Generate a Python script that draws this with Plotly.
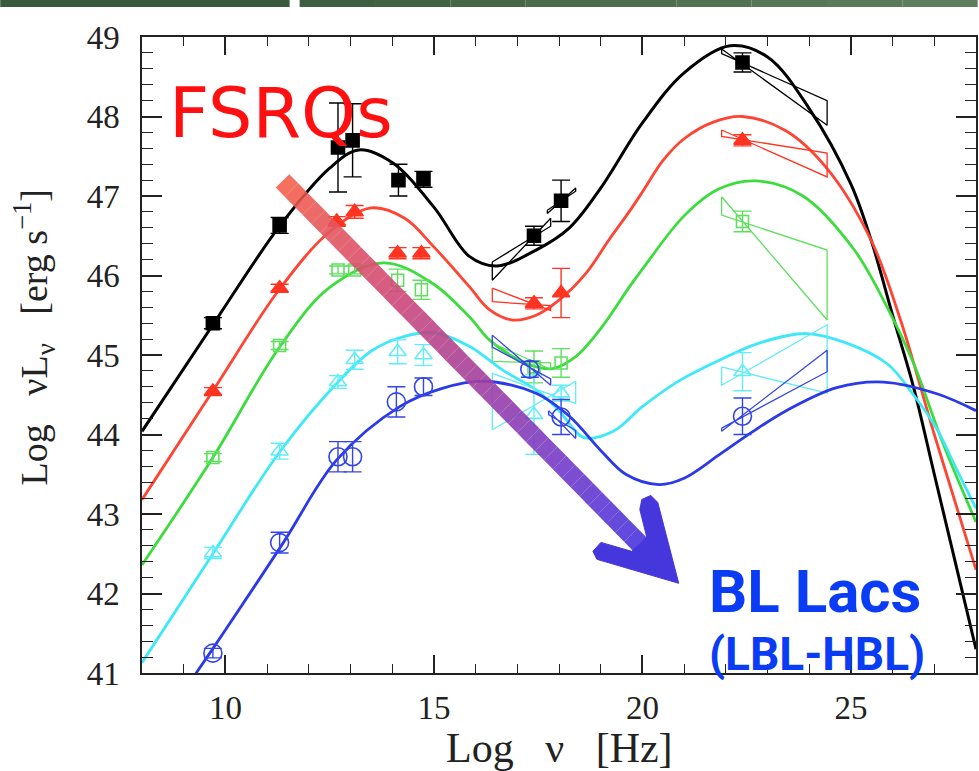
import plotly.graph_objects as go

# ---------------- data ----------------
# model curves (log nu, log nuL_nu)
black_cx = [8.0, 9.7, 11.3, 12.5, 13.2, 14.0, 15.0, 15.85, 16.5, 17.45, 18.25, 19.0, 20.0, 21.0, 22.1, 23.0, 24.0, 25.0, 25.5, 26.0, 26.5, 27.0, 27.5, 28.0]
black_cy = [44.04, 45.38, 46.62, 47.35, 47.58, 47.42, 46.86, 46.24, 46.12, 46.32, 46.6, 47.1, 47.92, 48.55, 48.89, 48.75, 48.1, 47.15, 46.42, 45.5, 44.6, 43.5, 42.4, 41.3]

red_cx = [8.0, 9.7, 11.3, 12.5, 13.5, 14.3, 15.0, 15.85, 16.33, 16.89, 17.45, 18.0, 18.65, 19.2, 19.68, 20.0, 20.5, 21.0, 21.7, 22.4, 23.44, 24.42, 25.47, 26.19, 27.0, 28.0]
red_cy = [43.18, 44.55, 45.83, 46.55, 46.85, 46.72, 46.36, 45.86, 45.57, 45.44, 45.5, 45.69, 46.03, 46.45, 46.8, 47.05, 47.45, 47.72, 47.93, 48.0, 47.82, 47.35, 46.46, 45.44, 44.0, 42.3]

green_cx = [8.0, 9.7, 11.3, 12.5, 13.8, 14.97, 15.85, 16.33, 16.89, 17.45, 17.85, 18.4, 19.04, 19.68, 20.0, 21.0, 21.84, 22.72, 23.85, 25.07, 25.87, 26.5, 27.2, 28.0]
green_cy = [42.36, 43.71, 45.1, 45.85, 46.16, 45.9, 45.48, 45.19, 44.98, 44.85, 44.83, 44.98, 45.36, 45.85, 46.08, 46.75, 47.09, 47.19, 47.0, 46.33, 45.6, 44.9, 43.9, 42.9]

cyan_cx = [8.0, 9.7, 11.3, 12.7, 13.5, 14.2, 15.0, 15.85, 16.65, 17.45, 18.0, 18.6, 19.3, 20.0, 20.8, 21.83, 22.8, 23.93, 24.9, 25.87, 26.5, 27.08, 27.5, 28.0]
cyan_cy = [41.13, 42.5, 43.78, 44.66, 45.05, 45.22, 45.28, 45.11, 44.81, 44.56, 44.3, 43.96, 44.04, 44.35, 44.65, 44.93, 45.15, 45.27, 45.15, 44.89, 44.5, 44.05, 43.6, 43.07]

blue_cx = [8.0, 9.3, 10.0, 11.39, 12.67, 14.18, 15.2, 16.2, 17.45, 18.25, 19.0, 19.6, 20.4, 21.0, 21.83, 22.6, 23.45, 24.66, 25.78, 27.08, 28.0]
blue_cy = [40.0, 41.0, 41.54, 42.64, 43.68, 44.35, 44.58, 44.67, 44.52, 44.23, 43.8, 43.5, 43.37, 43.45, 43.74, 44.02, 44.3, 44.59, 44.66, 44.51, 44.3]

# data points with error bars
black_x = [9.7, 11.3, 12.7, 13.05, 14.15, 14.75, 17.4, 18.05, 22.4]
black_y = [45.4, 46.63, 47.61, 47.7, 47.2, 47.21, 46.5, 46.94, 48.68]
black_e = [0.07, 0.1, 0.56, 0.46, 0.2, 0.1, 0.12, 0.26, 0.12]

red_x = [9.7, 11.3, 12.67, 13.1, 14.13, 14.7, 17.4, 18.05, 22.4]
red_y = [44.54, 45.84, 46.68, 46.8, 46.28, 46.28, 45.65, 45.78, 47.7]
red_e = [0.05, 0.05, 0.06, 0.08, 0.07, 0.07, 0.07, 0.31, 0.07]

green_x = [9.7, 11.3, 12.7, 13.1, 14.13, 14.7, 17.4, 18.05, 22.4]
green_y = [43.71, 45.12, 46.07, 46.07, 45.94, 45.82, 44.85, 44.9, 46.68]
green_e = [0.05, 0.05, 0.05, 0.05, 0.14, 0.12, 0.2, 0.18, 0.13]

cyan_x = [9.7, 11.3, 12.7, 13.1, 14.13, 14.75, 17.4, 18.05, 22.4]
cyan_y = [42.51, 43.79, 44.66, 44.94, 45.04, 45.0, 44.25, 44.52, 44.79]
cyan_e = [0.07, 0.1, 0.08, 0.12, 0.15, 0.13, 0.5, 0.1, 0.24]

blue_x = [9.7, 11.3, 12.7, 13.05, 14.1, 14.75, 17.3, 18.05, 22.4]
blue_y = [41.25, 42.64, 43.72, 43.72, 44.41, 44.6, 44.82, 44.22, 44.23]
blue_e = [0.06, 0.13, 0.19, 0.19, 0.19, 0.11, 0.1, 0.22, 0.23]

# spectral "bow-ties": (x_left, x_right, left_top, left_bottom, right_top, right_bottom)
black_bows = [(16.4, 17.8, 46.17, 45.94, 46.72, 46.62),
              (17.72, 18.4, 46.82, 46.78, 47.1, 47.06),
              (21.9, 24.43, 48.85, 48.79, 48.2, 47.89)]
red_bows = [(16.4, 17.8, 45.84, 45.67, 45.62, 45.56),
            (21.9, 24.43, 47.83, 47.75, 47.54, 47.24)]
green_bows = [(16.4, 17.8, 45.15, 44.92, 44.9, 44.82),
              (21.9, 24.43, 46.99, 46.76, 46.32, 45.44)]
cyan_bows = [(16.4, 18.4, 44.77, 44.06, 44.67, 44.39),
             (21.9, 24.43, 44.85, 44.62, 45.38, 44.52)]
blue_bows = [(16.4, 17.8, 45.25, 45.1, 44.7, 44.62),
             (17.75, 18.4, 44.3, 44.25, 44.05, 43.95),
             (21.9, 24.43, 44.08, 44.04, 45.06, 44.79)]

x_ticks = [10, 15, 20, 25]
y_ticks = [41, 42, 43, 44, 45, 46, 47, 48, 49]

# decorative arrow (data units)
arrow_start = (11.37, 47.19)
arrow_end = (19.94, 42.62)
arrow_head_x = [19.005, 18.813, 18.909, 20.871, 20.368, 20.201, 19.986, 19.938, 20.105, 19.746]
arrow_head_y = [42.643, 42.530, 42.430, 42.128, 43.146, 43.234, 43.183, 43.058, 42.706, 42.530]
arrow_stops = [(0.0, (244, 98, 76)), (0.3, (210, 74, 118)), (0.5, (172, 66, 150)),
               (0.75, (122, 60, 198)), (1.0, (74, 54, 222))]

# ---------------- figure ----------------
fig = go.Figure()

series = [
    ("black", "#000000", "#000000", black_cx, black_cy, black_x, black_y, black_e, "square", 13, black_bows, 3.0),
    ("red", "#ff4433", "#ff3322", red_cx, red_cy, red_x, red_y, red_e, "triangle-up", 15, red_bows, 2.8),
    ("green", "#3ddc3d", "#5ee05e", green_cx, green_cy, green_x, green_y, green_e, "square-open", 12, green_bows, 2.8),
    ("cyan", "#3ee8f8", "#62ecfa", cyan_cx, cyan_cy, cyan_x, cyan_y, cyan_e, "triangle-up-open", 15, cyan_bows, 2.8),
    ("blue", "#2a3ae8", "#3344e8", blue_cx, blue_cy, blue_x, blue_y, blue_e, "circle-open", 18, blue_bows, 2.8),
]

for name, lc, pc, cx, cy, px, py, pe, sym, msize, bows, lw in series:
    fig.add_trace(go.Scatter(x=cx, y=cy, mode="lines", line=dict(color=lc, width=lw, shape="spline", smoothing=1.0),
                             hoverinfo="skip", showlegend=False))
    for (xl, xr, lt, lb, rt, rb) in bows:
        fig.add_trace(go.Scatter(x=[xl, xr, xr, xl, xl], y=[lt, rb, rt, lb, lt], mode="lines",
                                 line=dict(color=pc, width=1.3), hoverinfo="skip", showlegend=False))
    fig.add_trace(go.Scatter(x=px, y=py, mode="markers",
                             marker=dict(symbol=sym, size=msize, color=pc, line=dict(color=pc, width=1.6)),
                             error_y=dict(type="data", array=pe, color=pc, thickness=1.4, width=9),
                             showlegend=False))

# gradient arrow shaft
def interp_color(t):
    for (t0, c0), (t1, c1) in zip(arrow_stops[:-1], arrow_stops[1:]):
        if t0 <= t <= t1:
            f = (t - t0) / (t1 - t0)
            return "rgb(%d,%d,%d)" % tuple(round(a + (b - a) * f) for a, b in zip(c0, c1))
    return "rgb(%d,%d,%d)" % arrow_stops[-1][1]

nseg = 40
(xs, ys), (xe, ye) = arrow_start, arrow_end
for i in range(nseg):
    t0, t1 = i / nseg, (i + 1) / nseg
    fig.add_shape(type="line", xref="x", yref="y",
                  x0=xs + (xe - xs) * t0, y0=ys + (ye - ys) * t0,
                  x1=xs + (xe - xs) * t1, y1=ys + (ye - ys) * t1,
                  line=dict(color=interp_color((t0 + t1) / 2), width=19), opacity=0.9, layer="above")

head_path = "M " + " L ".join("%f,%f" % (a, b) for a, b in zip(arrow_head_x, arrow_head_y)) + " Z"
fig.add_shape(type="path", xref="x", yref="y", path=head_path,
              fillcolor="#4537dc", line=dict(color="#4537dc", width=1), layer="above")

# top slide banner
banner_cols = ["#3a5a3e", "#3e5e41", "#426244", "#466647", "#4a6a4b", "#4e6e4f", "#527252", "#567656", "#5a7a5a", "#5e7e5e"]
segs = [(-0.170, 0.177)] + [(0.189 + k * (1.002 - 0.189) / 9, 0.189 + (k + 1) * (1.002 - 0.189) / 9) for k in range(9)]
for (a, b), col in zip(segs, banner_cols):
    fig.add_shape(type="rect", xref="paper", yref="paper", x0=a, x1=b, y0=1.0472, y1=1.060,
                  fillcolor=col, line=dict(width=0), layer="above")

serif = "Liberation Serif"
fig.add_annotation(text="Log\u2002 \u03bd\u2002 [Hz]", xref="paper", yref="paper", x=0.50, y=-0.118,
                   showarrow=False, font=dict(family=serif, size=42, color="#222"), xanchor="center", yanchor="middle")
fig.add_annotation(text="Log\u2002 \u03bdL<sub>\u03bd</sub>\u2002 [erg s<sup>\u22121</sup>]", xref="paper", yref="paper",
                   x=-0.13, y=0.527, textangle=-90, showarrow=False,
                   font=dict(family=serif, size=38, color="#222"), xanchor="center", yanchor="middle")

fig.add_annotation(text="FSRQs", xref="paper", yref="paper", x=0.030, y=0.880, showarrow=False,
                   font=dict(family="DejaVu Sans", size=70, color="#ff1010"), xanchor="left", yanchor="middle")
fig.add_annotation(text="<b>BL Lacs</b>", xref="paper", yref="paper", x=0.678, y=0.128, showarrow=False,
                   font=dict(family="Roboto", size=60, color="#0a3cf5"), xanchor="left", yanchor="middle")
fig.add_annotation(text="<b>(LBL-HBL)</b>", xref="paper", yref="paper", x=0.678, y=0.030, showarrow=False,
                   font=dict(family="Roboto", size=46, color="#0a3cf5"), xanchor="left", yanchor="middle")

axis_common = dict(showgrid=False, zeroline=False, showline=True, linecolor="#222", linewidth=1.5,
                   ticks="inside", mirror="allticks", tickcolor="#222",
                   tickfont=dict(family=serif, size=33, color="#222"))
fig.update_xaxes(range=[8, 28], tickvals=x_ticks, ticklen=18, tickwidth=1.5, ticklabelstandoff=5,
                 minor=dict(dtick=1, tick0=0, ticklen=9, tickwidth=1.2, ticks="inside", tickcolor="#222"),
                 **axis_common)
fig.update_yaxes(range=[41, 49], tickvals=y_ticks, ticklen=20, tickwidth=1.5, ticklabelstandoff=14,
                 minor=dict(dtick=0.2, tick0=41, ticklen=11, tickwidth=1.2, ticks="inside", tickcolor="#222"),
                 **axis_common)

fig.update_layout(width=979, height=771, margin=dict(l=142, r=1, t=37, b=98),
                  paper_bgcolor="white", plot_bgcolor="white", showlegend=False)

fig.write_html("out.html")
